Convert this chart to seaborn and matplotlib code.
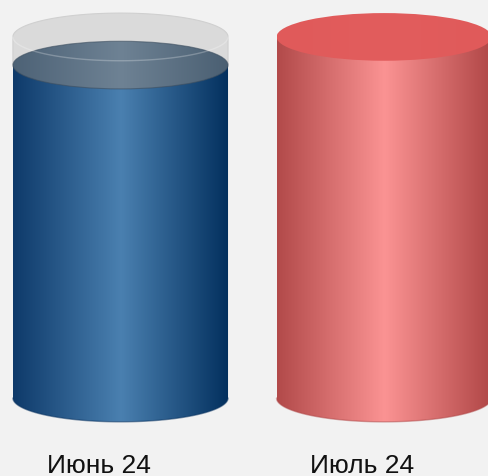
import numpy as np
import seaborn as sns
import matplotlib.pyplot as plt
from matplotlib.colors import LinearSegmentedColormap
from matplotlib.patches import Polygon, Ellipse

# --- data ---
months = ['Июнь 24', 'Июль 24']
values = [92.2, 100.0]      # filled level
capacity = [100.0, 100.0]   # full cylinder height

# --- styling ---
BG = '#f2f2f2'
BAR_W = 0.816
EB = 6.6          # half height of the ellipses, in data units
body_cols = [['#0e3a6a', '#4a80b0', '#03305e'],
             ['#b24a4a', '#fb9393', '#b04646']]
top_cols = [['#4d6276', '#6e8294', '#4a5f72'],
            ['#e05a5a', '#e25d5d', '#e05a5a']]
edge_cols = ['#0a3360', '#b04848']

sns.set_style('white', rc={'axes.facecolor': BG, 'figure.facecolor': BG})
plt.rcParams['font.family'] = ['Liberation Sans', 'DejaVu Sans']

fig = plt.figure(figsize=(4.89, 4.77), dpi=100)
ax = fig.add_axes([0, 0, 1, 1])
sns.barplot(x=months, y=values, width=BAR_W, color='w', ax=ax)
bars = list(ax.patches)
for b in bars:
    b.set_visible(False)


def gradient(ax, cmap, x0, x1, y0, y1, clip, z):
    grad = np.linspace(0, 1, 256).reshape(1, -1)
    im = ax.imshow(grad, cmap=cmap, extent=(x0, x1, y0, y1), aspect='auto',
                   interpolation='bilinear', zorder=z)
    clip.set_transform(ax.transData)
    im.set_clip_path(clip)


t = np.linspace(np.pi, 2 * np.pi, 120)
for i, bar in enumerate(bars):
    x0, w, h = bar.get_x(), bar.get_width(), bar.get_height()
    cx = x0 + w / 2
    cap = capacity[i]

    # glass part above the filled level
    if h < cap:
        tt = np.linspace(np.pi, 0, 120)
        pts = [(x0, h)] + [(cx + w / 2 * np.cos(a), cap + EB * np.sin(a)) for a in tt] + [(x0 + w, h)]
        ax.add_patch(Polygon(pts, closed=True, facecolor='#dadada', edgecolor='#d0d0d0',
                             lw=0.8, zorder=1))

    # body with bottom arc
    arc = [(cx + w / 2 * np.cos(a), EB * np.sin(a)) for a in t]
    body = [(x0, h)] + arc + [(x0 + w, h)]
    cmap = LinearSegmentedColormap.from_list('b%d' % i, body_cols[i])
    gradient(ax, cmap, x0, x0 + w, -EB, h, Polygon(body, closed=True), 2)
    ax.plot([p[0] for p in arc], [p[1] for p in arc], color=edge_cols[i], lw=1, alpha=0.5, zorder=3)

    # top surface
    tcmap = LinearSegmentedColormap.from_list('t%d' % i, top_cols[i])
    gradient(ax, tcmap, x0, x0 + w, h - EB, h + EB, Ellipse((cx, h), w, 2 * EB), 4)
    if h < cap:
        ax.add_patch(Ellipse((cx, h), w, 2 * EB, fill=False, edgecolor='#3e4f60', lw=0.8,
                             alpha=0.6, zorder=5))
        fa = np.linspace(np.pi, 2 * np.pi, 120)
        ax.plot(cx + w / 2 * np.cos(fa), cap + EB * np.sin(fa), color='white', lw=1.0,
                alpha=0.25, zorder=6)

    # category label, slightly left of the cylinder centre
    ax.text(cx - 0.082, -18.6, months[i], ha='center', va='center', fontsize=19,
            color='#111111')

ax.set_xlim(-0.457, 1.398)
ax.set_ylim(-21.6, 110.5)
ax.set_xticks([])
ax.set_yticks([])
ax.set_xlabel('')
ax.set_ylabel('')
sns.despine(ax=ax, left=True, bottom=True)

fig.savefig('out.png', dpi=100, facecolor=BG)
